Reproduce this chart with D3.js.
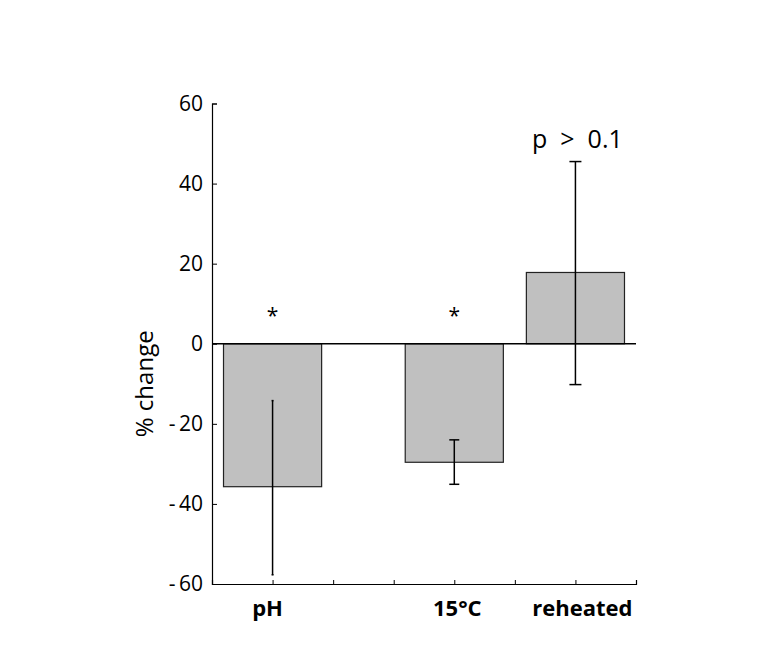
<!DOCTYPE html>
<html><head><meta charset="utf-8">
<script src="https://cdn.jsdelivr.net/npm/d3@7"></script>
<style>body{margin:0;background:#fff}svg{display:block}text{font-family:"Open Sans","Noto Sans",sans-serif;fill:#000}</style>
</head><body>
<script>
const categories = ["pH", "15°C", "reheated"];
const slots = [1, 4, 6];
const means = [-35.7, -29.6, 17.8];
const errHigh = [-14.2, -24.0, 45.5];
const errLow = [-57.7, -35.1, -10.2];
const significance = ["*", "*", "p  >  0.1"];
const yTicks = [-60, -40, -20, 0, 20, 40, 60];
const xTicks = [1, 2, 3, 4, 5, 6, 7];

const W = 774, H = 658;
const svg = d3.select("body").append("svg").attr("width", W).attr("height", H);
const x = d3.scaleLinear().domain([0, 7]).range([212, 636]);
const y = d3.scaleLinear().domain([-60, 60]).range([584, 103.5]);
const bw = x(1.62) - x(0);
const capW = [2, 10, 12];

// axes
const yAxis = svg.append("g").attr("transform", `translate(${x(0)},0)`)
  .call(d3.axisLeft(y).tickValues(yTicks).tickSize(-5).tickPadding(9)
    .tickFormat(d => d < 0 ? "-\u2009" + Math.abs(d) : String(d)));
yAxis.selectAll("text").style("font-size", "21px");
const xAxis = svg.append("g").attr("transform", `translate(0,${y(-60)})`)
  .call(d3.axisBottom(x).tickValues(xTicks).tickSize(-4).tickFormat(""));
[yAxis, xAxis].forEach(g => { g.select(".domain").attr("stroke", "#000").attr("stroke-width", 1.2); g.selectAll(".tick line").attr("stroke", "#000"); });

// bars
svg.selectAll("rect.bar").data(means).join("rect")
  .attr("x", (d, i) => x(slots[i]) - bw / 2)
  .attr("width", bw)
  .attr("y", d => y(Math.max(0, d)))
  .attr("height", d => Math.abs(y(d) - y(0)))
  .attr("fill", "#c0c0c0").attr("stroke", "#222").attr("stroke-width", 1.2);

// zero line
svg.append("line").attr("x1", x(0)).attr("x2", x(7)).attr("y1", y(0)).attr("y2", y(0))
  .attr("stroke", "#000").attr("stroke-width", 1.5);

// error bars
const eb = svg.selectAll("g.eb").data(means).join("g");
eb.append("line").attr("x1", (d, i) => x(slots[i])).attr("x2", (d, i) => x(slots[i]))
  .attr("y1", (d, i) => y(errHigh[i])).attr("y2", (d, i) => y(errLow[i])).attr("stroke", "#000").attr("stroke-width", 1.5);
eb.append("line").attr("x1", (d, i) => x(slots[i]) - capW[i] / 2).attr("x2", (d, i) => x(slots[i]) + capW[i] / 2)
  .attr("y1", (d, i) => y(errHigh[i])).attr("y2", (d, i) => y(errHigh[i])).attr("stroke", "#000").attr("stroke-width", 1.5);
eb.append("line").attr("x1", (d, i) => x(slots[i]) - capW[i] / 2).attr("x2", (d, i) => x(slots[i]) + capW[i] / 2)
  .attr("y1", (d, i) => y(errLow[i])).attr("y2", (d, i) => y(errLow[i])).attr("stroke", "#000").attr("stroke-width", 1.5);

// significance labels
svg.selectAll("text.sig").data(significance).join("text")
  .attr("x", (d, i) => x(slots[i]) + (d === "*" ? 0 : 2))
  .attr("y", (d, i) => d === "*" ? y(0) - 21 : y(errHigh[i]) - 14)
  .attr("text-anchor", "middle")
  .style("font-size", (d) => d === "*" ? "21px" : "25px")
  .style("white-space", "pre")
  .text(d => d);

// category labels
svg.selectAll("text.cat").data(categories).join("text")
  .attr("x", (d, i) => x(slots[i]) + [-5, 3, 7][i])
  .attr("y", 616)
  .attr("text-anchor", "middle")
  .style("font-size", "22px").style("font-weight", "bold")
  .text(d => d);

// y label
svg.append("text").attr("transform", `translate(153,${y(-10)}) rotate(-90)`)
  .attr("text-anchor", "middle").style("font-size", "24px").text("% change");
</script>
</body></html>
